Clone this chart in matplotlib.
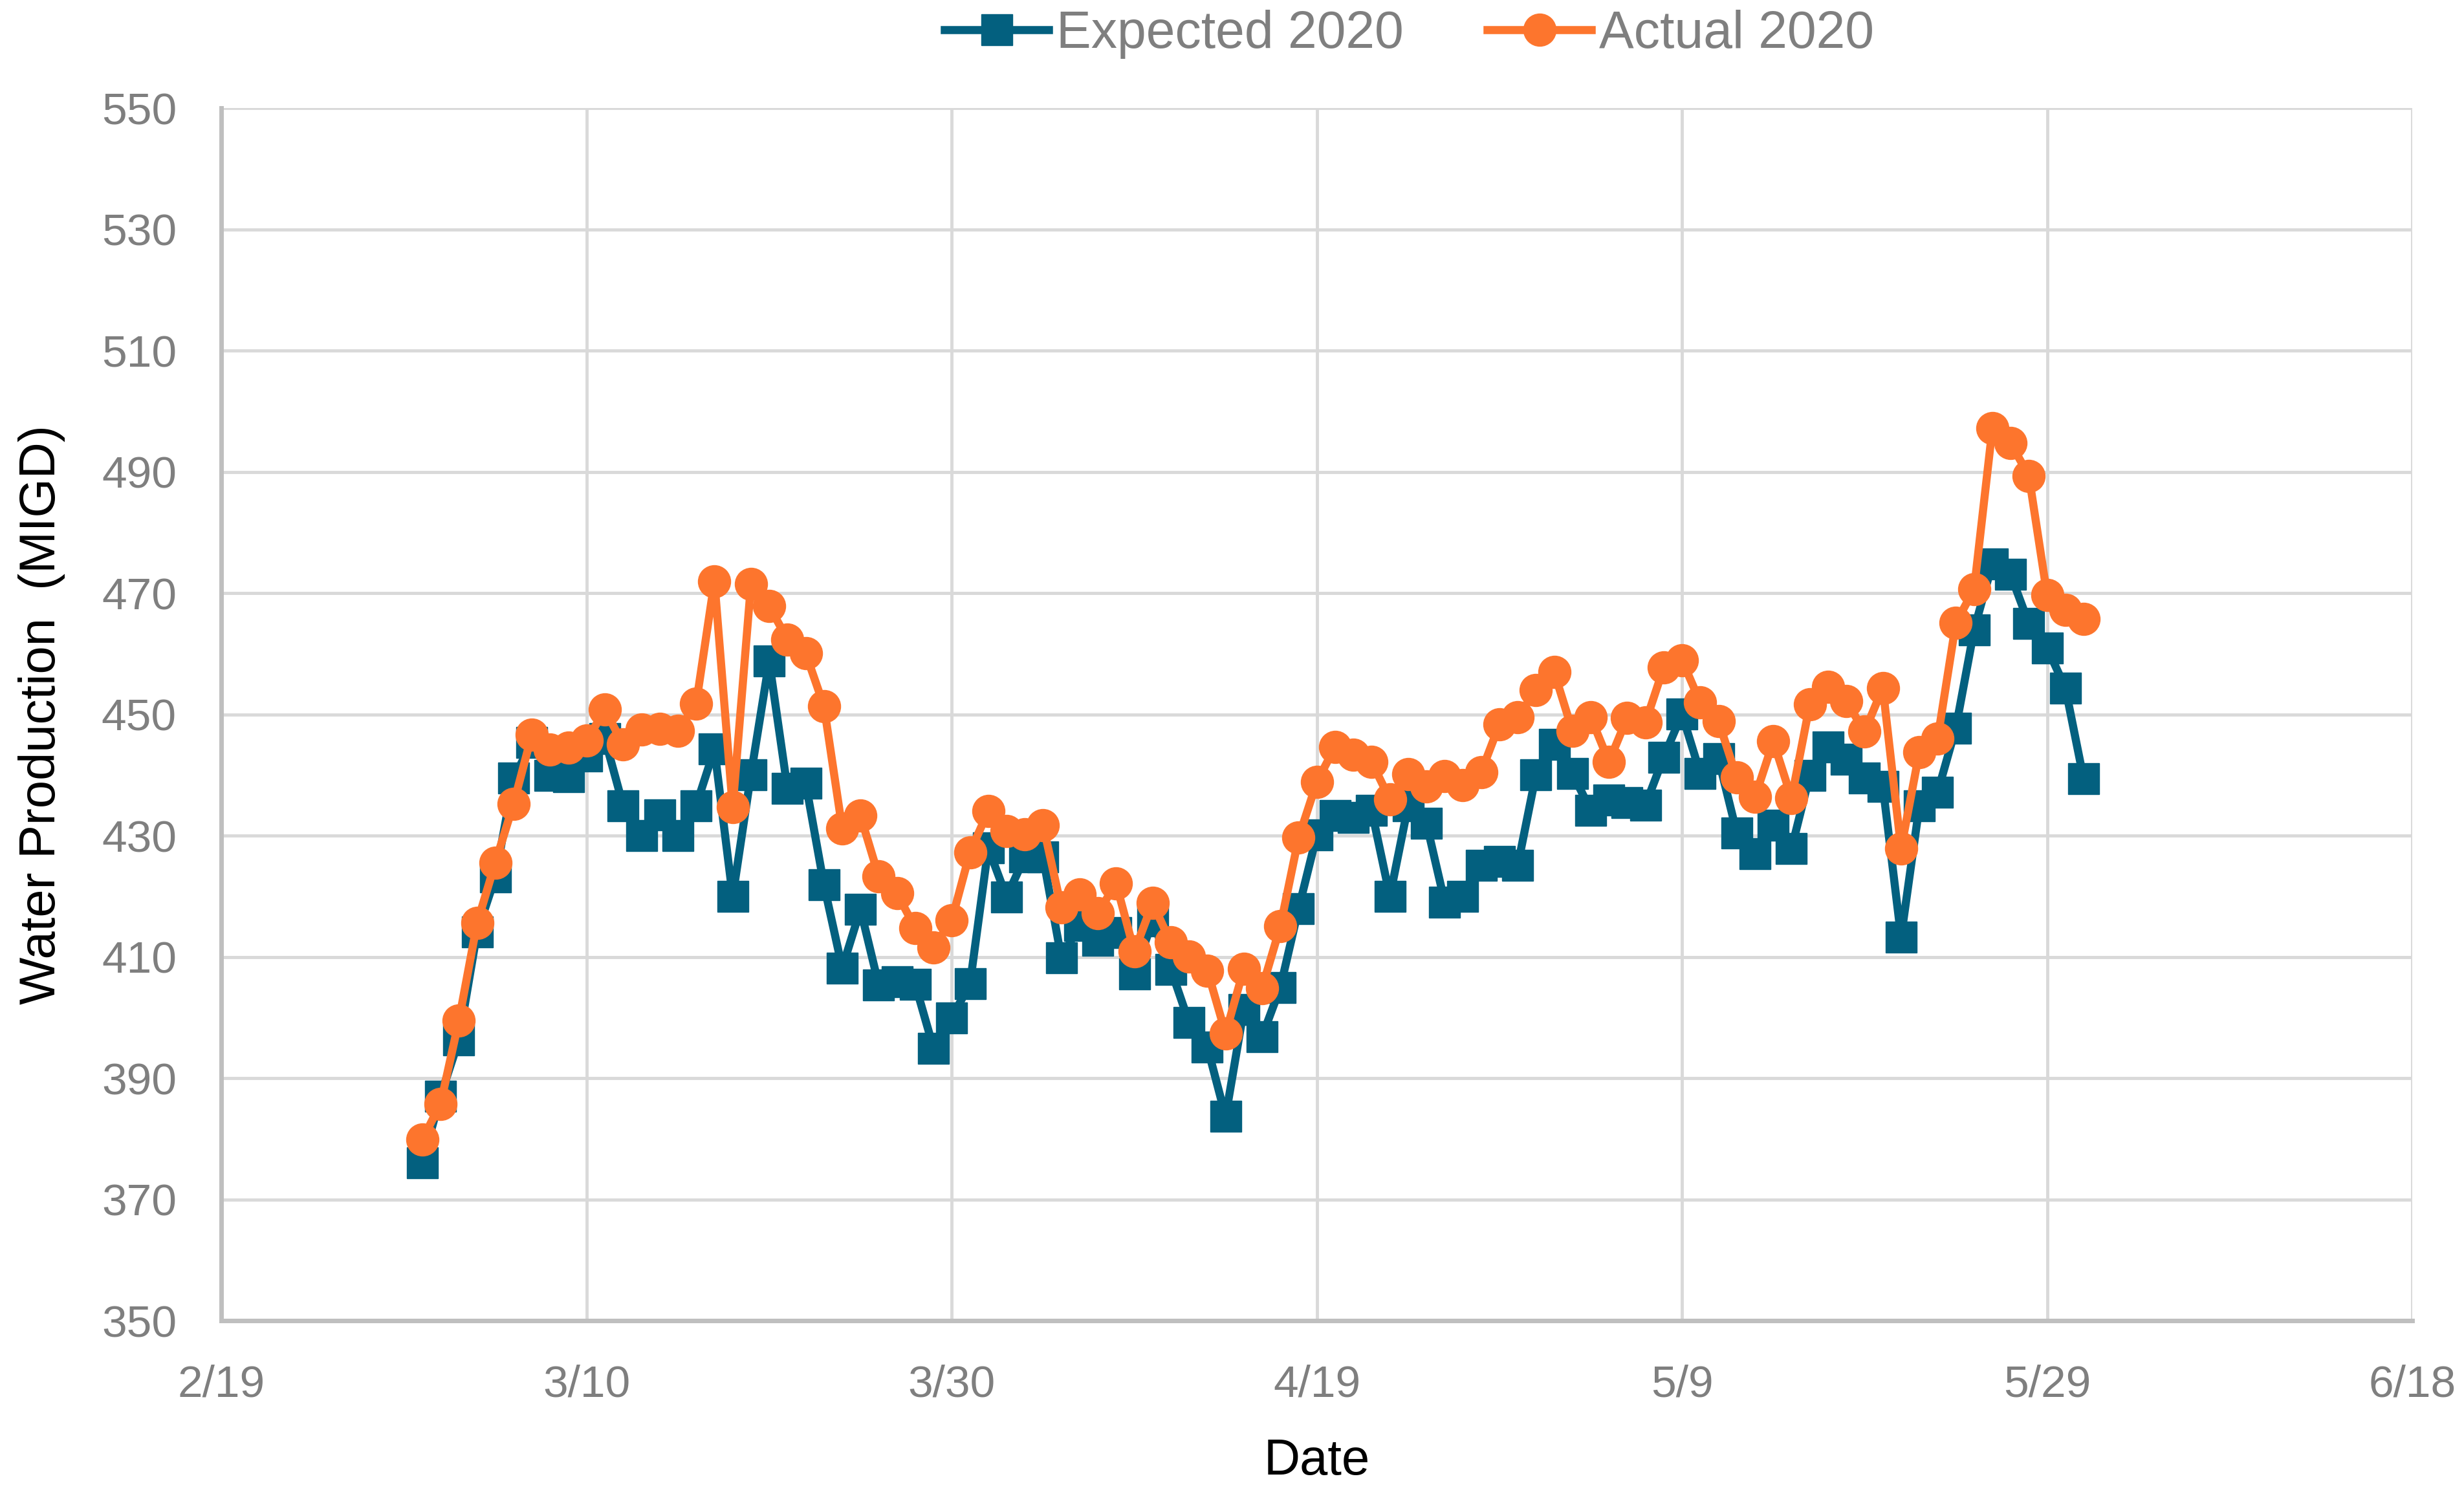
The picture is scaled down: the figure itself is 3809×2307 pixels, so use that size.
import matplotlib
matplotlib.use('Agg')
import matplotlib.pyplot as plt
import pandas as pd

# daily values, 3/1/2020 - 5/31/2020
dates = pd.date_range('2020-03-01', '2020-05-31', freq='D')
expected = [376.1, 387.1, 396.3, 414.1, 423.2, 439.5, 445.4, 440.0, 439.8, 443.2,
            446.0, 435.0, 430.0, 433.5, 430.0, 435.0, 444.3, 420.0, 440.1, 458.8,
            437.8, 438.7, 421.9, 408.2, 417.9, 405.4, 405.9, 405.5, 395.0, 400.0,
            405.6, 428.0, 419.9, 426.5, 426.5, 409.9, 415.2, 412.8, 414.0, 407.2,
            416.0, 408.0, 399.2, 395.2, 383.7, 401.4, 396.9, 405.0, 418.0, 430.2,
            433.4, 433.0, 434.2, 420.0, 435.0, 432.1, 419.1, 420.0, 425.1, 425.8,
            425.1, 440.1, 445.1, 440.3, 434.2, 435.9, 435.5, 435.1, 443.0, 450.1,
            440.3, 442.7, 430.5, 427.1, 431.8, 427.9, 440.0, 444.7, 442.6, 439.5,
            438.2, 413.3, 434.9, 437.2, 447.8, 464.0, 474.9, 473.1, 465.0, 461.0,
            454.4, 439.4]
actual = [379.9, 385.8, 399.5, 415.6, 425.6, 435.3, 446.7, 444.2, 444.6, 445.7,
          450.8, 445.1, 447.5, 447.6, 447.3, 451.8, 472.0, 434.7, 471.5, 467.9,
          462.4, 460.1, 451.4, 431.2, 433.3, 423.3, 420.5, 414.8, 411.6, 416.1,
          427.3, 434.1, 430.8, 430.3, 431.8, 418.2, 420.3, 417.2, 422.2, 410.9,
          418.9, 412.4, 410.1, 407.8, 397.4, 408.1, 404.9, 415.1, 429.7, 438.9,
          444.7, 443.4, 442.2, 436.0, 440.2, 438.2, 439.9, 438.4, 440.5, 448.4,
          449.6, 454.0, 457.0, 447.3, 449.6, 442.2, 449.5, 448.7, 457.8, 459.0,
          452.0, 448.9, 439.6, 436.4, 445.6, 436.2, 451.7, 454.6, 452.2, 447.2,
          454.4, 427.9, 443.8, 446.0, 465.1, 470.7, 497.2, 494.8, 489.4, 469.7,
          467.3, 465.8]
xticks = pd.date_range('2020-02-19', periods=7, freq='20D')
yticks = list(range(350, 551, 20))

plt.rcParams['font.family'] = ['Liberation Sans', 'DejaVu Sans']
grey = '#7F7F7F'

fig = plt.figure(figsize=(38.09, 23.07), dpi=100)
ax = fig.add_axes([0.0899, 0.1147, 0.979 - 0.0899, 0.9274 - 0.1147])

ax.plot(dates, expected, color='#03607F', lw=9, marker='s', markersize=35,
        label='Expected 2020', zorder=3)
ax.plot(dates, actual, color='#FD752D', lw=9, marker='o', markersize=36,
        label='Actual 2020', zorder=4)

ax.set_xlim(xticks[0], xticks[-1])
ax.set_ylim(350, 550)
ax.set_xticks(xticks)
ax.set_xticklabels([f'{d.month}/{d.day}' for d in xticks])
ax.set_yticks(yticks)

ax.grid(True, color='#D9D9D9', lw=3.5)
ax.set_axisbelow(True)
for s in ['top', 'right']:
    ax.spines[s].set_visible(False)
for s in ['left', 'bottom']:
    ax.spines[s].set_color('#BFBFBF')
    ax.spines[s].set_linewidth(5)
ax.tick_params(length=0, labelsize=50, labelcolor=grey)
ax.tick_params(axis='x', pad=48)
ax.tick_params(axis='y', pad=50)

ax.set_xlabel('Date', fontsize=56, labelpad=36)
ax.set_ylabel('Water Production  (MIGD)', fontsize=56, labelpad=40)

leg = fig.legend(loc='center', bbox_to_anchor=(0.572, 0.977), ncol=2, frameon=False,
                 fontsize=58, handlelength=2.0, columnspacing=1.6, handletextpad=0.15)
for t in leg.get_texts():
    t.set_color(grey)

fig.savefig('out.png', dpi=100)
